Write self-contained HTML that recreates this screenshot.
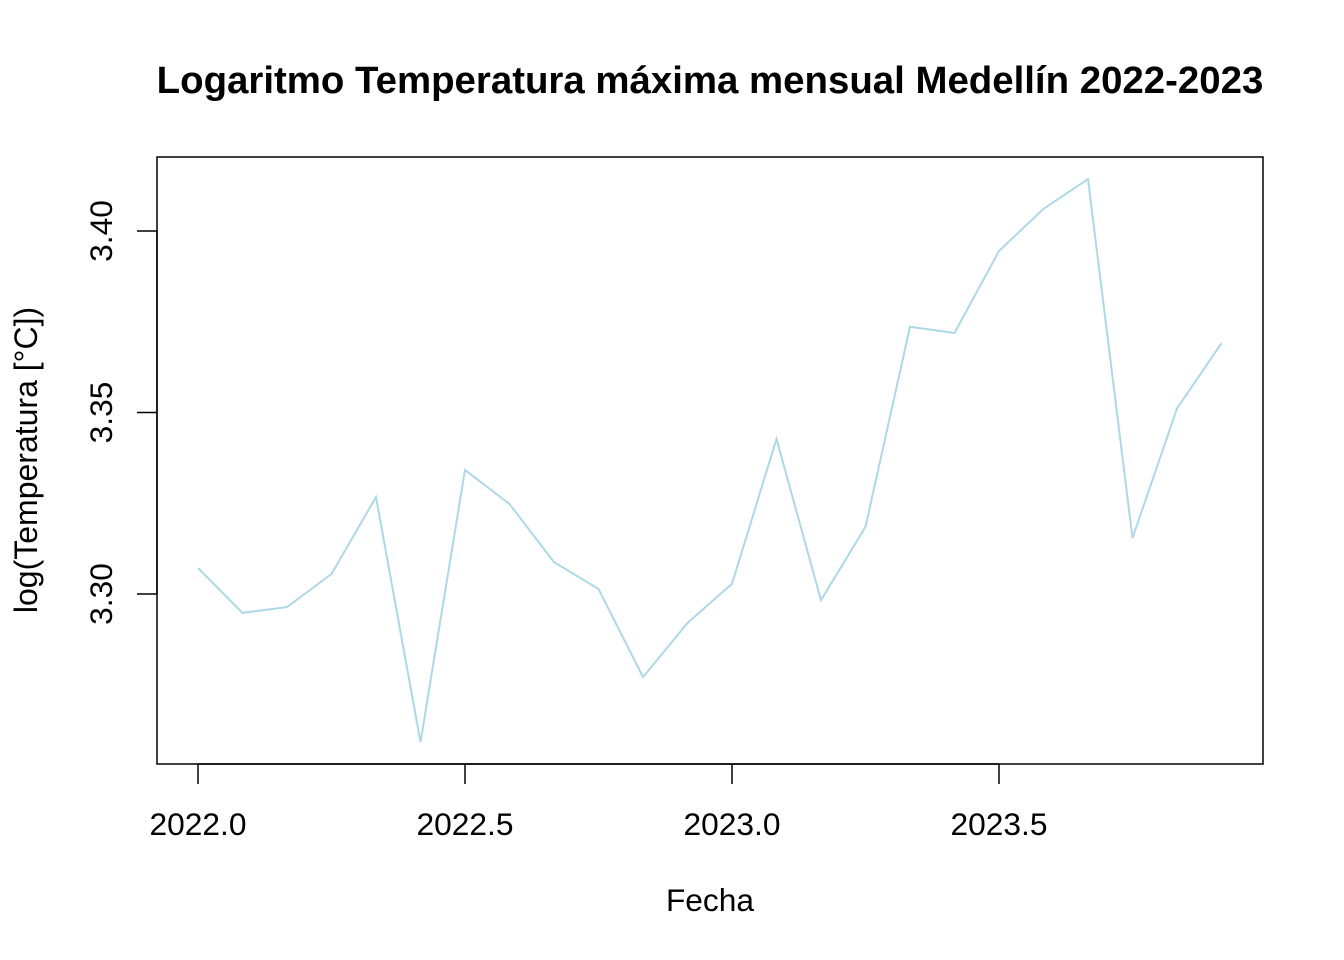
<!DOCTYPE html>
<html><head><meta charset="utf-8"><style>
body{margin:0;background:#fff;}
svg{display:block;font-family:"Liberation Sans",Arial,sans-serif;}
</style></head><body>
<svg id="chart" width="1344" height="960" viewBox="0 0 1344 960">
<text x="710" y="93" text-anchor="middle" font-size="38.4" font-weight="bold">Logaritmo Temperatura máxima mensual Medellín 2022-2023</text>
<rect x="157" y="157" width="1106" height="607" fill="none" stroke="#000" stroke-width="1.5"/>
<g id="xaxis"></g>
<g id="yaxis"></g>
<text x="710" y="911" text-anchor="middle" font-size="31.7">Fecha</text>
<text transform="translate(37,460) rotate(-90)" text-anchor="middle" font-size="32">log(Temperatura [°C])</text>
<polyline id="series" fill="none" stroke="#add8e6" stroke-width="2"/>
</svg>
<script>
const startYear = 2022;
const values = [3.3072,3.2948,3.2964,3.3055,3.3267,3.2592,3.3342,3.3248,3.3088,3.3014,3.2771,3.2920,3.3028,3.3427,3.2983,3.3185,3.3736,3.3719,3.3945,3.4061,3.4143,3.3154,3.3511,3.3691];
const xTicks = [2022.0,2022.5,2023.0,2023.5];
const xTickLabels = ["2022.0","2022.5","2023.0","2023.5"];
const yTicks = [3.30,3.35,3.40];
const yTickLabels = ["3.30","3.35","3.40"];

const xs = t => 198 + (t - 2022) * 534;
const ys = v => 594 - (v - 3.30) * 3630;
const NS = "http://www.w3.org/2000/svg";
const xa = document.getElementById('xaxis');
const ya = document.getElementById('yaxis');
function mk(tag, attrs, parent){const e=document.createElementNS(NS,tag);for(const k in attrs)e.setAttribute(k,attrs[k]);parent.appendChild(e);return e;}
mk('line',{x1:xs(xTicks[0]),x2:xs(xTicks[xTicks.length-1]),y1:764,y2:764,stroke:'#000','stroke-width':1.5},xa);
xTicks.forEach((t,i)=>{
  const l=mk('line',{x1:xs(t),x2:xs(t),y1:764,y2:784,stroke:'#000','stroke-width':1.5},xa);
  
  
  const tx=mk('text',{x:xs(t),y:835,'text-anchor':'middle','font-size':31.7},xa);
  tx.textContent=xTickLabels[i];
  
  
});
mk('line',{x1:157,x2:157,y1:ys(yTicks[0]),y2:ys(yTicks[yTicks.length-1]),stroke:'#000','stroke-width':1.5},ya);
yTicks.forEach((v,i)=>{
  const l=mk('line',{x1:137,x2:157,y1:ys(v),y2:ys(v),stroke:'#000','stroke-width':1.5},ya);
  
  
  const tx=mk('text',{transform:`translate(112,${ys(v)}) rotate(-90)`,'text-anchor':'middle','font-size':31.7},ya);
  tx.textContent=yTickLabels[i];
  
  
});
document.getElementById('series').setAttribute('points',
  values.map((v,i)=>xs(startYear+i/12).toFixed(1)+','+ys(v).toFixed(1)).join(' '));
</script>
</body></html>
